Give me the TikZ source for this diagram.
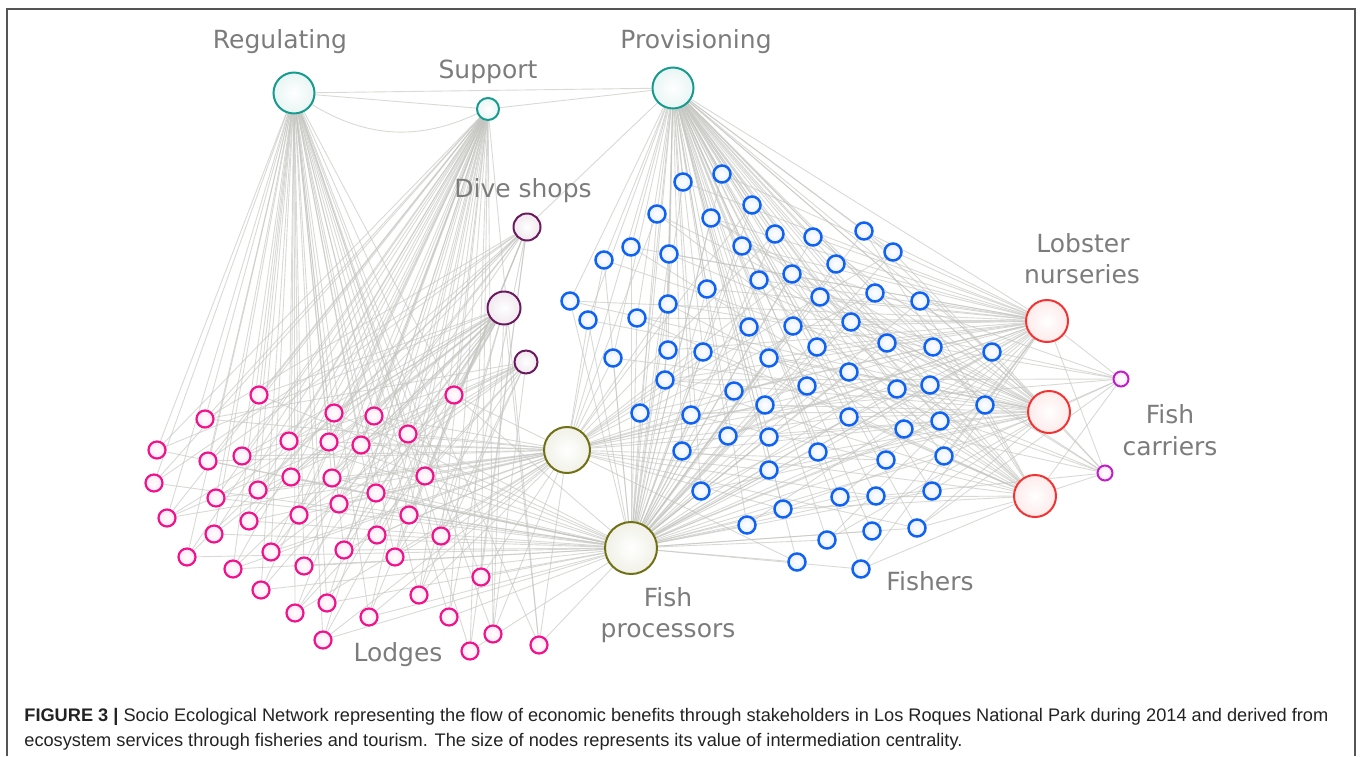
\documentclass[tikz,border=0pt]{standalone}
\usepackage{fontspec}
\setmainfont{DejaVu Sans}
\newfontfamily\captionfont{Liberation Sans}
\usetikzlibrary{backgrounds}
\definecolor{ServiceColor}{HTML}{169B8E}
\definecolor{DiveColor}{HTML}{6A1B5F}
\definecolor{ProcessorColor}{HTML}{707015}
\definecolor{FisherColor}{HTML}{0F62F2}
\definecolor{LodgeColor}{HTML}{F0148C}
\definecolor{NurseryColor}{HTML}{F23333}
\definecolor{CarrierColor}{HTML}{C21DC8}
\definecolor{EdgeColor}{HTML}{C4C4C0}
\definecolor{LabelColor}{HTML}{7C7C7C}
\definecolor{FrameColor}{HTML}{555555}
\definecolor{CaptionColor}{HTML}{222222}

\begin{document}
\begin{tikzpicture}[x=0.5pt, y=-0.5pt,
  actor/.style={circle, draw=#1, line width=1pt, inner sep=0pt,
    inner color=white, outer color=#1!10},
  fisher/.style={actor=FisherColor, line width=1.25pt, minimum size=8.5pt},
  lodge/.style={actor=LodgeColor, line width=1.1pt, minimum size=8.5pt},
  edge/.style={draw=EdgeColor, line width=0.45pt, opacity=0.65},
  group label/.style={text=LabelColor, font=\fontsize{12.5}{15}\selectfont, anchor=base},
  caption/.style={text=CaptionColor, font=\captionfont\fontsize{9.1}{11}\selectfont, anchor=base west, inner sep=0pt}]

\useasboundingbox (0,0) rectangle (1360,756);
\draw[FrameColor, line width=0.7pt] (7,756) -- (7,9) -- (1355,9) -- (1355,756);

% Servicios
\node[actor=ServiceColor, minimum size=20.5pt] (reg) at (294,93) {};
\node[actor=ServiceColor, minimum size=11pt] (sup) at (488,109) {};
\node[actor=ServiceColor, minimum size=20.5pt] (prov) at (673,88) {};

% Tiendas de buceo
\node[actor=DiveColor, minimum size=13.5pt] (dive1) at (527,227) {};
\node[actor=DiveColor, minimum size=16.5pt] (dive2) at (504,308) {};
\node[actor=DiveColor, minimum size=11.5pt] (dive3) at (526,362) {};

% Procesadores, viveros y transportistas
\node[actor=ProcessorColor, minimum size=23pt] (proc1) at (567,450) {};
\node[actor=ProcessorColor, minimum size=26pt] (proc2) at (631,548) {};
\node[actor=NurseryColor, minimum size=21pt] (nurs1) at (1047,321) {};
\node[actor=NurseryColor, minimum size=21pt] (nurs2) at (1049,412) {};
\node[actor=NurseryColor, minimum size=21pt] (nurs3) at (1035,496) {};
\node[actor=CarrierColor, minimum size=7.5pt] (carr1) at (1121,379) {};
\node[actor=CarrierColor, minimum size=7.5pt] (carr2) at (1105,473) {};

% Posadas
\foreach \x/\y [count=\i] in {259/395, 454/395, 205/419, 334/413, 374/416,
    408/434, 157/450, 208/461, 242/456, 289/441, 329/442, 361/445, 154/483,
    216/498, 258/490, 291/477, 332/478, 425/476, 376/493, 339/504, 167/518,
    214/534, 249/521, 299/515, 409/515, 377/535, 441/536, 187/557, 233/569,
    271/552, 304/566, 344/550, 395/557, 261/590, 481/577, 295/613, 327/603,
    369/617, 419/595, 449/617, 323/640, 493/634, 470/651, 539/645}
  \node[lodge] (lodge\i) at (\x,\y) {};

% Pescadores
\foreach \x/\y [count=\i] in {683/182, 722/174, 657/214, 711/218, 752/205,
    631/247, 669/254, 604/260, 742/246, 775/234, 813/237, 864/231, 893/252,
    836/264, 792/274, 759/280, 707/289, 668/304, 570/301, 588/320, 637/318,
    820/297, 875/293, 920/301, 749/327, 793/326, 851/322, 613/358, 668/350,
    703/352, 769/358, 817/347, 887/343, 933/347, 992/352, 665/380, 734/391,
    807/386, 849/372, 897/389, 930/385, 985/405, 765/405, 640/413, 691/415,
    728/436, 769/437, 849/417, 904/429, 940/421, 682/451, 818/452, 886/460,
    944/456, 769/470, 701/491, 840/497, 876/496, 932/491, 783/509, 747/525,
    872/531, 917/528, 827/540, 797/562, 861/569}
  \node[fisher] (fisher\i) at (\x,\y) {};

% Aristas, debajo de los nodos
\begin{scope}[on background layer]
\draw[edge] (reg) -- (prov);
\draw[edge] (reg) -- (sup) -- (prov);
\draw[edge] (reg) to[bend right=28] (sup);
\draw[edge] (prov) -- (dive1);
\draw[edge] (prov) -- (proc1);
\draw[edge] (prov) -- (proc2);
\foreach \n in {nurs1,nurs2,nurs3}{
  \draw[edge] (prov) -- (\n);
  \draw[edge] (carr1) -- (\n);
  \draw[edge] (carr2) -- (\n);
}
\foreach \i in {1,...,44}{
  \draw[edge] (reg) -- (lodge\i);
  \draw[edge] (sup) -- (lodge\i);
  \pgfmathtruncatemacro\ha{mod(\i*7,5)}
  \pgfmathtruncatemacro\hb{mod(\i*5,3)}
  \ifnum\ha<2 \draw[edge] (dive1) -- (lodge\i);\fi
  \ifnum\ha>1 \draw[edge] (dive2) -- (lodge\i);\fi
  \ifnum\hb=0 \draw[edge] (dive3) -- (lodge\i);\fi
  \ifnum\hb<2 \draw[edge] (proc1) -- (lodge\i);\fi
  \ifnum\hb>0 \draw[edge] (proc2) -- (lodge\i);\fi
}
\foreach \i in {1,...,66}{
  \draw[edge] (prov) -- (fisher\i);
  \draw[edge] (proc2) -- (fisher\i);
  \pgfmathtruncatemacro\ha{mod(\i*7,5)}
  \pgfmathtruncatemacro\hb{mod(\i*3,4)}
  \pgfmathtruncatemacro\hc{mod(\i*5,3)}
  \pgfmathtruncatemacro\hd{mod(\i,9)}
  \ifnum\ha<2 \draw[edge] (proc1) -- (fisher\i);\fi
  \ifnum\ha>1 \draw[edge] (nurs1) -- (fisher\i);\fi
  \ifnum\hb<2 \draw[edge] (nurs2) -- (fisher\i);\fi
  \ifnum\hc=0 \draw[edge] (nurs3) -- (fisher\i);\fi
  \ifnum\hd=0 \draw[edge] (carr1) -- (fisher\i);\fi
  \ifnum\hd=4 \draw[edge] (carr2) -- (fisher\i);\fi
}
\end{scope}

% Etiquetas de los grupos
\node[group label] (reglabel) at (280,48) {Regulating};
\node[group label] (suplabel) at (488,78) {Support};
\node[group label] (provlabel) at (696,48) {Provisioning};
\node[group label] (divelabel) at (523,197) {Dive shops};
\node[group label] (nurslabela) at (1083,252) {Lobster};
\node[group label] (nurslabelb) at (1082,283) {nurseries};
\node[group label] (carrlabela) at (1170,423) {Fish};
\node[group label] (carrlabelb) at (1170,455) {carriers};
\node[group label] (fishlabel) at (930,590) {Fishers};
\node[group label] (proclabela) at (668,606) {Fish};
\node[group label] (proclabelb) at (668,637) {processors};
\node[group label] (lodgelabel) at (398,661) {Lodges};

% Leyenda
\node[caption] (cap1) at (24,721) {\textbf{FIGURE 3 |} Socio Ecological Network representing the flow of economic benefits through stakeholders in Los Roques National Park during 2014 and derived from};
\node[caption] (cap2) at (24,746) {ecosystem services through fisheries and tourism. The size of nodes represents its value of intermediation centrality.};

\end{tikzpicture}
\end{document}
